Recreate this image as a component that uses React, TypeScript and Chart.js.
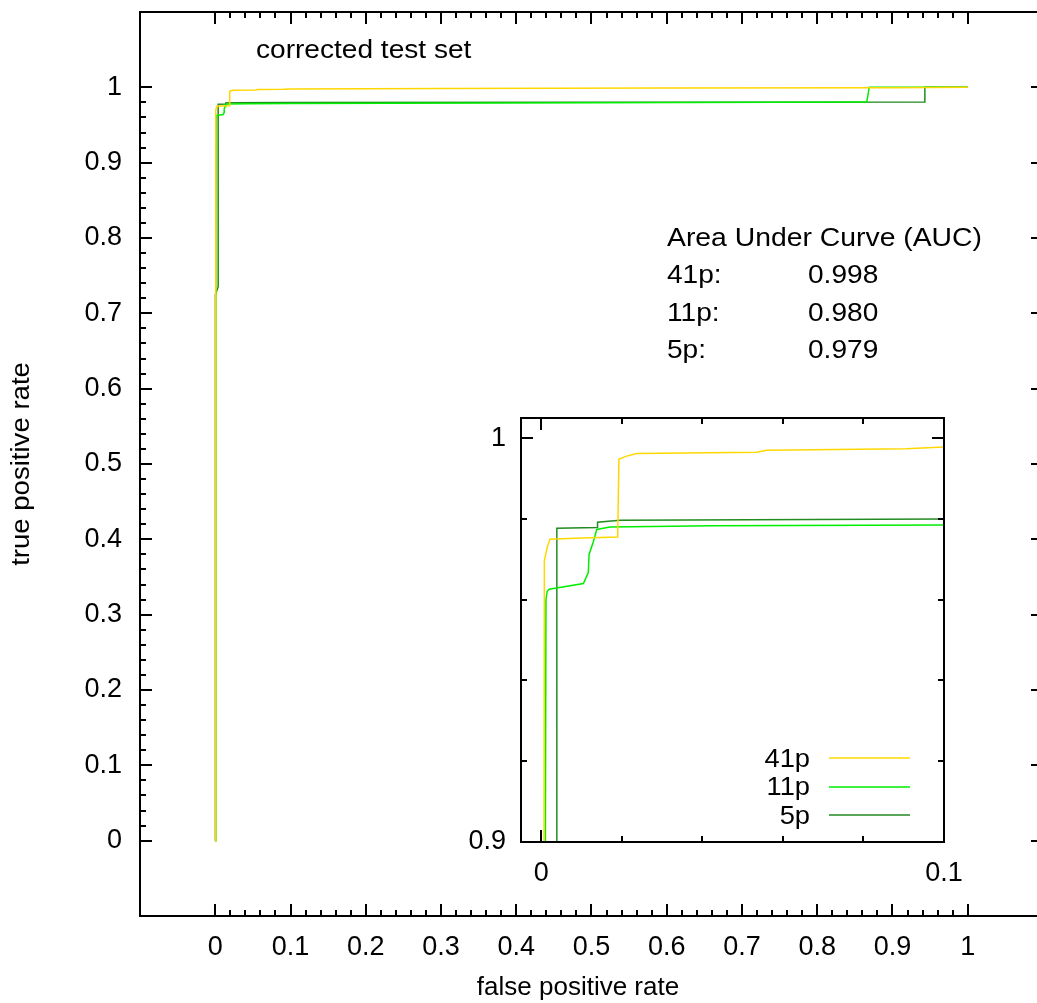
import React, { useEffect, useRef } from 'react';
import { Chart, registerables } from 'chart.js';
Chart.register(...registerables);

const FONT = "'Liberation Sans', Arial, Helvetica, sans-serif";
const FS = 26;
const TICK_FS = 27;

// ---- data ----
const seriesNames = ['41p', '11p', '5p'];
const seriesColors = ['#ffd700', '#00ee00', '#228b22'];
const aucValues = ['0.998', '0.980', '0.979'];

const fpr41 = [0, 0.0006, 0.0008, 0.0015, 0.0022, 0.010, 0.0190, 0.0193, 0.0210, 0.0237, 0.0535, 0.0560, 0.0906, 0.1000, 0.3000, 0.6000, 0.9000, 1.0000];
const tpr41 = [0, 0.800, 0.9696, 0.9730, 0.9750, 0.9753, 0.9755, 0.9948, 0.9955, 0.9962, 0.9965, 0.9970, 0.9974, 0.9978, 0.9985, 0.9990, 0.9995, 1.0000];

const fpr11 = [0, 0.0008, 0.0012, 0.0015, 0.0020, 0.0105, 0.0117, 0.0119, 0.0130, 0.0138, 0.0171, 0.0427, 0.1000, 0.5000, 0.8650, 0.8660, 0.8675, 0.8690, 1.0000];
const tpr11 = [0, 0.800, 0.9600, 0.9621, 0.9626, 0.9640, 0.9667, 0.9712, 0.9745, 0.9774, 0.9780, 0.9783, 0.9785, 0.9795, 0.9805, 0.9820, 0.9900, 1.0000, 1.0000];

const fpr5 = [0, 0.0002, 0.0039, 0.0039, 0.0140, 0.0140, 0.0196, 0.1000, 0.5000, 0.9430, 0.9430, 1.0000];
const tpr5 = [0, 0.725, 0.735, 0.9777, 0.9779, 0.9792, 0.9797, 0.9800, 0.9803, 0.9805, 1.0000, 1.0000];

const mainTickValues = [0, 0.1, 0.2, 0.3, 0.4, 0.5, 0.6, 0.7, 0.8, 0.9, 1];
const mainTickLabels = ['0', '0.1', '0.2', '0.3', '0.4', '0.5', '0.6', '0.7', '0.8', '0.9', '1'];

const insetXTicks = [0, 0.1];
const insetXLabels = ['0', '0.1'];
const insetXMinor = [0.02, 0.04, 0.06, 0.08];
const insetYTicks = [0.9, 1];
const insetYLabels = ['0.9', '1'];
const insetYMinor = [0.92, 0.94, 0.96, 0.98];

const xs = [fpr41, fpr11, fpr5];
const ys = [tpr41, tpr11, tpr5];

function stepValues(from: number, to: number, step: number): number[] {
  const out: number[] = [];
  const n = Math.round((to - from) / step);
  for (let i = 0; i <= n; i++) out.push(+(from + i * step).toFixed(6));
  return out;
}

const mainMinor = stepValues(0, 1, 0.02).filter((v) => Math.abs(v * 10 - Math.round(v * 10)) > 1e-6);

function makeDatasets() {
  return seriesNames.map((name, i) => ({
    label: name,
    data: xs[i].map((x, j) => ({ x, y: ys[i][j] })),
    borderColor: seriesColors[i],
    backgroundColor: seriesColors[i],
    borderWidth: 1.5,
    pointRadius: 0,
    tension: 0,
    fill: false,
  }));
}

function framePlugin(cfg: {
  xMajor: number[]; xMinor: number[]; yMajor: number[]; yMinor: number[];
  major: number; minor: number; fillWhite?: boolean;
}) {
  return {
    id: 'frameTicks',
    beforeDraw(chart: any) {
      if (!cfg.fillWhite) return;
      const { left, top, right, bottom } = chart.chartArea;
      const ctx = chart.ctx;
      ctx.save();
      ctx.fillStyle = '#ffffff';
      ctx.fillRect(left, top, right - left, bottom - top);
      ctx.restore();
    },
    afterDraw(chart: any) {
      const ctx = chart.ctx;
      const { left, top, right, bottom } = chart.chartArea;
      const sx = chart.scales.x;
      const sy = chart.scales.y;
      ctx.save();
      ctx.strokeStyle = '#000';
      ctx.lineWidth = 2;
      ctx.beginPath();
      const xt = (vals: number[], len: number) => {
        vals.forEach((v) => {
          const p = Math.round(sx.getPixelForValue(v));
          ctx.moveTo(p, bottom); ctx.lineTo(p, bottom - len);
          ctx.moveTo(p, top); ctx.lineTo(p, top + len);
        });
      };
      const yt = (vals: number[], len: number) => {
        vals.forEach((v) => {
          const p = Math.round(sy.getPixelForValue(v));
          ctx.moveTo(left, p); ctx.lineTo(left + len, p);
          ctx.moveTo(right, p); ctx.lineTo(right - len, p);
        });
      };
      xt(cfg.xMajor, cfg.major);
      xt(cfg.xMinor, cfg.minor);
      yt(cfg.yMajor, cfg.major);
      yt(cfg.yMinor, cfg.minor);
      ctx.stroke();
      ctx.strokeRect(left, top, right - left, bottom - top);
      ctx.restore();
    },
  };
}

function stretchedText(ctx: any, text: string, x: number, y: number, sx: number) {
  ctx.save();
  ctx.translate(x, y);
  ctx.scale(sx, 1);
  ctx.fillText(text, 0, 0);
  ctx.restore();
}

const mainTextPlugin = {
  id: 'mainText',
  afterDraw(chart: any) {
    const ctx = chart.ctx;
    ctx.save();
    ctx.fillStyle = '#000';
    ctx.font = `${FS}px ${FONT}`;
    ctx.textAlign = 'left';
    ctx.textBaseline = 'alphabetic';
    stretchedText(ctx, 'corrected test set', 256, 58, 1.08);
    ctx.textBaseline = 'middle';
    stretchedText(ctx, 'Area Under Curve (AUC)', 667, 239, 1.09);
    const rows = [276, 314, 351];
    seriesNames.forEach((n, i) => {
      stretchedText(ctx, n + ':', 667, rows[i], 1.08);
      stretchedText(ctx, aucValues[i], 808, rows[i], 1.08);
    });
    ctx.textAlign = 'center';
    ctx.fillText('false positive rate', 578, 988);
    ctx.translate(22, 464);
    ctx.rotate(-Math.PI / 2);
    ctx.scale(1.06, 1);
    ctx.fillText('true positive rate', 0, 0);
    ctx.restore();
  },
};

const insetLegendPlugin = {
  id: 'insetLegend',
  afterDraw(chart: any) {
    const ctx = chart.ctx;
    // page coords -> canvas coords (inset canvas at 440,400)
    const ox = 440, oy = 400;
    const baselines = [767, 795, 824];
    const lineYs = [758, 787, 815];
    ctx.save();
    ctx.font = `${FS}px ${FONT}`;
    ctx.fillStyle = '#000';
    ctx.textAlign = 'right';
    ctx.textBaseline = 'alphabetic';
    seriesNames.forEach((n, i) => {
      stretchedText(ctx, n, 810 - ox, baselines[i] - oy, 1.05);
      ctx.strokeStyle = seriesColors[i];
      ctx.lineWidth = 1.5;
      ctx.beginPath();
      ctx.moveTo(829 - ox, lineYs[i] - oy);
      ctx.lineTo(910 - ox, lineYs[i] - oy);
      ctx.stroke();
    });
    ctx.restore();
  },
};

function noPadX(s: any, h: number) {
  s.height = h;
  s.paddingLeft = 0;
  s.paddingRight = 0;
  s.paddingTop = 0;
  s.paddingBottom = 0;
}
function noPadY(s: any, w: number) {
  s.width = w;
  s.paddingLeft = 0;
  s.paddingRight = 0;
  s.paddingTop = 0;
  s.paddingBottom = 0;
}

export default function App() {
  const mainRef = useRef<HTMLCanvasElement>(null);
  const insetRef = useRef<HTMLCanvasElement>(null);

  useEffect(() => {
    const tickFont = { family: FONT, size: TICK_FS };
    const main = new Chart(mainRef.current as HTMLCanvasElement, {
      type: 'line',
      data: { datasets: makeDatasets() as any },
      options: {
        responsive: false,
        animation: false,
        layout: { padding: { top: 12, right: 2, left: 0, bottom: 0 } },
        plugins: { legend: { display: false }, tooltip: { enabled: false } },
        scales: {
          x: {
            type: 'linear', min: -0.1, max: 1.1,
            grid: { display: false, drawTicks: false },
            border: { display: false },
            ticks: {
              font: tickFont, color: '#000', padding: 15, autoSkip: false, maxRotation: 0,
              callback: (_v: any, i: number) => mainTickLabels[i],
            },
            afterBuildTicks: (s: any) => { s.ticks = mainTickValues.map((v) => ({ value: v })); },
            afterFit: (s: any) => noPadX(s, 87),
          },
          y: {
            type: 'linear', min: -0.1, max: 1.1,
            grid: { display: false, drawTicks: false },
            border: { display: false },
            ticks: {
              font: tickFont, color: '#000', padding: 18, autoSkip: false,
              callback: (_v: any, i: number) => mainTickLabels[i],
            },
            afterBuildTicks: (s: any) => { s.ticks = mainTickValues.map((v) => ({ value: v })); },
            afterFit: (s: any) => noPadY(s, 140),
          },
        },
      } as any,
      plugins: [
        framePlugin({ xMajor: mainTickValues, xMinor: mainMinor, yMajor: mainTickValues, yMinor: mainMinor, major: 12, minor: 6 }),
        mainTextPlugin,
      ],
    });

    const inset = new Chart(insetRef.current as HTMLCanvasElement, {
      type: 'line',
      data: { datasets: makeDatasets() as any },
      options: {
        responsive: false,
        animation: false,
        layout: { padding: { top: 18, right: 56, left: 0, bottom: 0 } },
        plugins: { legend: { display: false }, tooltip: { enabled: false } },
        scales: {
          x: {
            type: 'linear', min: -0.005, max: 0.1,
            grid: { display: false, drawTicks: false },
            border: { display: false },
            ticks: {
              font: tickFont, color: '#000', padding: 15, autoSkip: false, maxRotation: 0,
              callback: (_v: any, i: number) => insetXLabels[i],
            },
            afterBuildTicks: (s: any) => { s.ticks = insetXTicks.map((v) => ({ value: v })); },
            afterFit: (s: any) => noPadX(s, 58),
          },
          y: {
            type: 'linear', min: 0.9, max: 1.005,
            grid: { display: false, drawTicks: false },
            border: { display: false },
            ticks: {
              font: tickFont, color: '#000', padding: 15, autoSkip: false,
              callback: (_v: any, i: number) => insetYLabels[i],
            },
            afterBuildTicks: (s: any) => { s.ticks = insetYTicks.map((v) => ({ value: v })); },
            afterFit: (s: any) => noPadY(s, 81),
          },
        },
      } as any,
      plugins: [
        framePlugin({ xMajor: insetXTicks, xMinor: insetXMinor, yMajor: insetYTicks, yMinor: insetYMinor, major: 12, minor: 6, fillWhite: true }),
        insetLegendPlugin,
      ],
    });

    return () => { main.destroy(); inset.destroy(); };
  }, []);

  return (
    <div style={{ position: 'absolute', left: 0, top: 0, width: 1037, height: 1003, overflow: 'hidden', background: '#fff' }}>
      <canvas ref={mainRef} width={1045} height={1003} style={{ position: 'absolute', left: 0, top: 0 }} />
      <canvas ref={insetRef} width={560} height={500} style={{ position: 'absolute', left: 440, top: 400 }} />
    </div>
  );
}
